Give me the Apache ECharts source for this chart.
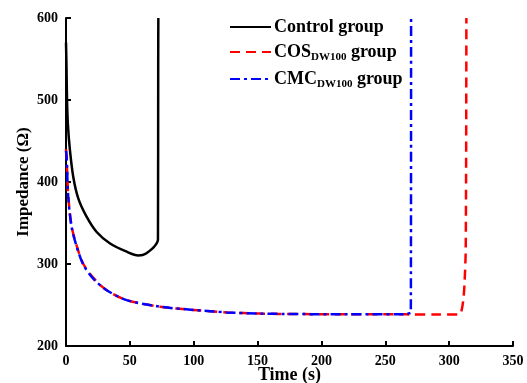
<!DOCTYPE html>
<html>
<head>
<meta charset="utf-8">
<script src="https://cdn.jsdelivr.net/npm/echarts@6/dist/echarts.min.js"></script>
<style>
  html, body { margin: 0; padding: 0; background: #fff; }
  #main { width: 527px; height: 383px; }
</style>
</head>
<body>
<div id="main"></div>
<script>
// 读图得到的数据 (时间 s, 阻抗 Ω)
const controlTime = [0, 0.4, 0.8, 1.5, 3, 5.7, 9.6, 16, 24, 34.5, 47.5, 56.6, 60, 63, 69, 72, 72.2, 72.3]
const controlImp = [570, 540, 500, 470, 440, 406, 380, 358, 339, 325, 315, 310.5, 311, 313, 321, 330, 550, 600]

const cosTime = [0, 0.5, 1.8, 4.4, 8.4, 13.6, 21.4, 31.9, 47.5, 73.6, 99.7, 125.8, 152, 180, 222, 261, 270, 290, 308, 309.5, 311, 312, 313, 313.5]
const cosImp = [440, 428, 383, 346, 322, 300, 283, 268, 256, 248, 244, 241, 239.5, 239, 238.6, 238.8, 238.5, 238.3, 238.5, 242, 255, 275, 320, 600]

const cmcTime = [0, 0.5, 1.8, 4.4, 8.4, 13.6, 21.4, 31.9, 47.5, 73.6, 99.7, 125.8, 152, 180, 222, 261, 266, 269, 270, 270.2]
const cmcImp = [438, 430, 381, 345, 321, 299, 282, 268, 256, 248, 244, 241, 239.5, 239, 238.6, 238.8, 238.6, 240, 241, 600]

const xTicks = { min: 0, max: 350, interval: 50 }
const yTicks = { min: 200, max: 600, interval: 100 }

const zip = (t, v) => t.map((x, i) => [x, v[i]])

const font = 'Liberation Serif'
const myChart = echarts.init(document.getElementById('main'), null, { renderer: 'canvas' })

const rich = {
    a: { fontFamily: font, fontWeight: 'bold', fontSize: 18, color: '#000' },
    s: { fontFamily: font, fontWeight: 'bold', fontSize: 11, color: '#000', verticalAlign: 'bottom', padding: [11, 0, 0, 0] }
}

const option = {
    animation: false,
    backgroundColor: '#fff',
    grid: {
        left: 66,
        right: 14,
        top: 18,
        bottom: 37,
        outerBoundsMode: 'none'
    },
    legend: {
        orient: 'vertical',
        left: 224,
        top: 13,
        itemWidth: 41,
        itemHeight: 14,
        itemGap: 7,
        itemStyle: { opacity: 0 },
        data: ['Control group', 'COS', 'CMC'],
        formatter: name => {
            if (name === 'Control group') return '{a|Control group}'
            return '{a|' + name + '}{s|DW100}{a| group}'
        },
        textStyle: { rich: rich, padding: [0, 0, 0, -2] }
    },
    xAxis: {
        type: 'value',
        min: xTicks.min,
        max: xTicks.max,
        interval: xTicks.interval,
        name: 'Time (s)',
        nameLocation: 'middle',
        nameGap: 20,
        nameMoveOverlap: false,
        nameTextStyle: { fontFamily: font, fontWeight: 'bold', fontSize: 18, color: '#000' },
        axisLine: { lineStyle: { color: '#000', width: 2 } },
        axisTick: { inside: true, length: 5, lineStyle: { color: '#000', width: 2 } },
        axisLabel: { fontFamily: font, fontWeight: 'bold', fontSize: 14, color: '#000', margin: 8 },
        splitLine: { show: false }
    },
    yAxis: {
        type: 'value',
        min: yTicks.min,
        max: yTicks.max,
        interval: yTicks.interval,
        name: 'Impedance (Ω)',
        nameLocation: 'middle',
        nameGap: 34,
        nameMoveOverlap: false,
        nameTextStyle: { fontFamily: font, fontWeight: 'bold', fontSize: 17, color: '#000' },
        axisLine: { show: true, lineStyle: { color: '#000', width: 2 } },
        axisTick: { show: true, inside: true, length: 5, lineStyle: { color: '#000', width: 2 } },
        axisLabel: { fontFamily: font, fontWeight: 'bold', fontSize: 14, color: '#000', margin: 8 },
        splitLine: { show: false }
    },
    series: [
        {
            name: 'Control group',
            type: 'line',
            symbol: 'none',
            smooth: 0.3,
            color: '#000',
            lineStyle: { color: '#000', width: 2.5 },
            data: zip(controlTime, controlImp)
        },
        {
            name: 'COS',
            type: 'line',
            symbol: 'none',
            smooth: 0.3,
            color: '#ff0000',
            lineStyle: { color: '#ff0000', width: 2.5, type: [10, 6] },
            data: zip(cosTime, cosImp)
        },
        {
            name: 'CMC',
            type: 'line',
            symbol: 'none',
            smooth: 0.3,
            color: '#0000ff',
            lineStyle: { color: '#0000ff', width: 2.5, type: [10, 4, 3, 4] },
            data: zip(cmcTime, cmcImp)
        }
    ]
}

myChart.setOption(option)
</script>
</body>
</html>
